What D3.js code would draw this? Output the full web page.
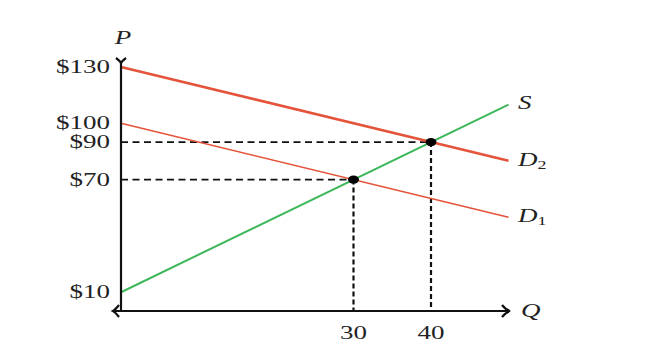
<!DOCTYPE html>
<html>
<head>
<meta charset="utf-8">
<script src="https://cdn.jsdelivr.net/npm/d3@7"></script>
<style>
  body { margin: 0; background: #fff; }
  text { font-family: "Liberation Serif", "DejaVu Serif", serif; fill: #222; }
</style>
</head>
<body>
<svg width="670" height="362"></svg>
<script>
// chart values
var quantities = [0, 50];
var supplyP = [10, 110];
var demand1P = [100, 50];
var demand2P = [130, 80];
var priceTicks = [10, 70, 90, 100, 130];
var qtyTicks = [30, 40];
var eqQ = [30, 40];
var eqP = [70, 90];

var svg = d3.select("svg");
var x = d3.scaleLinear().domain([0, 50]).range([121, 508.5]);
var y = d3.scaleLinear().domain([0, 130]).range([311, 67]);
var sx = 1.5; // the picture is stretched sideways

var red = "#e5533a", green = "#3db75a";

function stretched(g, px, py, anchor) {
    return g.append("text")
        .attr("transform", "translate(" + px + "," + py + ") scale(" + sx + ",1)")
        .attr("text-anchor", anchor || "start");
}

// dashed guides
var guides = svg.append("g").style("stroke", "#111").style("stroke-width", 1.8);
guides.selectAll("line.h")
    .data(eqQ)
    .enter().append("line")
    .attr("x1", x(0)).attr("x2", function (d) { return x(d); })
    .attr("y1", function (d, i) { return y(eqP[i]); })
    .attr("y2", function (d, i) { return y(eqP[i]); })
    .style("stroke-dasharray", "7,4.5");
guides.selectAll("line.v")
    .data(eqQ)
    .enter().append("line")
    .attr("x1", function (d) { return x(d); }).attr("x2", function (d) { return x(d); })
    .attr("y1", function (d, i) { return y(eqP[i]); })
    .attr("y2", y(0))
    .style("stroke-width", 2.2)
    .style("stroke-dasharray", "5,3");

// supply and demand curves
var curves = [
    {vals: demand1P, color: red, w: 1.6},
    {vals: demand2P, color: red, w: 2.6},
    {vals: supplyP, color: green, w: 2}
];
var line = d3.line()
    .x(function (d, i) { return x(quantities[i]); })
    .y(function (d) { return y(d); });
svg.append("g").selectAll("path")
    .data(curves)
    .enter().append("path")
    .attr("d", function (d) { return line(d.vals); })
    .style("fill", "none")
    .style("stroke", function (d) { return d.color; })
    .style("stroke-width", function (d) { return d.w; });

// axes
var axes = svg.append("g").style("stroke", "#111").style("stroke-width", 2.2).style("fill", "none");
axes.append("line").attr("x1", x(0)).attr("y1", y(0)).attr("x2", x(0)).attr("y2", 61);
axes.append("line").attr("x1", 115).attr("y1", y(0)).attr("x2", 509).attr("y2", y(0));
axes.append("path").attr("d", "M116,55 Q120,58 121,60 Q122,58 126,55").attr("transform", "translate(0,3)");
axes.append("path").attr("d", "M502,305 Q506,310 510,311 Q506,312 502,317");
axes.append("path").attr("d", "M119,305 Q115,310 113,311 Q115,312 119,317");

// equilibrium dots
svg.append("g").selectAll("ellipse")
    .data(eqQ)
    .enter().append("ellipse")
    .attr("cx", function (d) { return x(d); })
    .attr("cy", function (d, i) { return y(eqP[i]); })
    .attr("rx", 5.5).attr("ry", 4)
    .style("fill", "#000");

// tick labels
var labels = svg.append("g").style("font-size", "18px");
priceTicks.forEach(function (p) {
    stretched(labels, 110, y(p) + 6, "end").text("$" + p);
});
qtyTicks.forEach(function (q) {
    stretched(labels, x(q), 339, "middle").text(q);
});

// axis and curve names
var names = svg.append("g").style("font-size", "18px").style("font-style", "italic");
stretched(names, 123, 44, "middle").text("P");
stretched(names, 521, 317).text("Q");
stretched(names, 518, 109).text("S");
var d2 = stretched(names, 518, 166);
d2.append("tspan").text("D");
d2.append("tspan").attr("dy", 3).style("font-size", "12px").style("font-style", "normal").text("2");
var d1 = stretched(names, 518, 222);
d1.append("tspan").text("D");
d1.append("tspan").attr("dy", 3).style("font-size", "12px").style("font-style", "normal").text("1");
</script>
</body>
</html>
